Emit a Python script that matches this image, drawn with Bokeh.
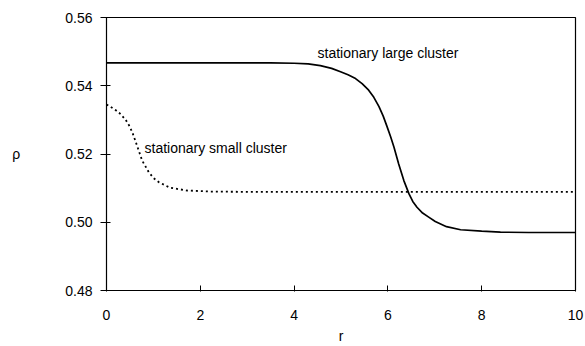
from bokeh.plotting import figure
from bokeh.models import Label, Range1d, FixedTicker, CustomJSTickFormatter
from bokeh.embed import file_html
from bokeh.resources import INLINE

r_large = [0, 1, 2, 3, 3.5, 4.0, 4.3, 4.56, 4.8, 4.99, 5.15, 5.31, 5.45, 5.59, 5.70, 5.81, 5.90, 5.98, 6.06, 6.13, 6.23, 6.34, 6.45, 6.53, 6.62, 6.74, 6.87, 7.01, 7.25, 7.55, 8.0, 8.4, 9.0, 10]
rho_large = [0.5467, 0.5467, 0.5467, 0.5467, 0.5467, 0.5466, 0.5464, 0.5459, 0.5451, 0.5441, 0.5432, 0.5421, 0.5406, 0.5387, 0.5366, 0.5339, 0.5311, 0.5281, 0.5250, 0.5220, 0.5171, 0.5122, 0.5083, 0.5061, 0.5044, 0.5027, 0.5015, 0.5002, 0.4987, 0.4978, 0.4974, 0.4971, 0.4970, 0.4970]

r_small = [0, 0.1, 0.2, 0.3, 0.41, 0.48, 0.55, 0.65, 0.76, 0.90, 1.0, 1.12, 1.36, 1.72, 2.22, 3, 4, 6, 8, 10]
rho_small = [0.5345, 0.5337, 0.5328, 0.5317, 0.5300, 0.5284, 0.5264, 0.5225, 0.5181, 0.5147, 0.5130, 0.5117, 0.5101, 0.5093, 0.5090, 0.5089, 0.5089, 0.5089, 0.5089, 0.5089]

x_ticks = [0, 2, 4, 6, 8, 10]
y_ticks = [0.48, 0.50, 0.52, 0.54, 0.56]
x_title = "r"
y_title = "ρ"
label_large = "stationary large cluster"
label_small = "stationary small cluster"

FONT = "Liberation Sans"

p = figure(width=585, height=346, output_backend="svg", toolbar_location=None,
           x_range=Range1d(0, 10), y_range=Range1d(0.48, 0.56),
           min_border_left=106, min_border_right=10, min_border_top=17, min_border_bottom=56)
p.xgrid.visible = False
p.ygrid.visible = False
p.outline_line_color = "black"
p.outline_line_width = 1.2
p.background_fill_color = "white"
p.border_fill_color = "white"

p.line(r_large, rho_large, line_color="black", line_width=1.7)
p.line(r_small, rho_small, line_color="black", line_width=1.8, line_dash="2 3")

p.xaxis.ticker = FixedTicker(ticks=x_ticks)
p.yaxis.ticker = FixedTicker(ticks=y_ticks)
p.yaxis.formatter = CustomJSTickFormatter(code="return tick.toFixed(2);")

for ax in (p.xaxis[0], p.yaxis[0]):
    ax.axis_line_color = "black"
    ax.major_tick_line_color = "black"
    ax.minor_tick_line_color = None
    ax.major_label_text_font = FONT
    ax.major_label_text_font_size = "14px"
    ax.major_label_text_color = "black"
    ax.axis_label_text_font = FONT
    ax.axis_label_text_font_size = "14px"
    ax.axis_label_text_font_style = "normal"
    ax.axis_label_text_color = "black"

p.xaxis.major_tick_in = 5
p.xaxis.major_tick_out = 1
p.xaxis.major_label_standoff = 18
p.xaxis.axis_label = x_title
p.xaxis.axis_label_standoff = 5

p.yaxis.major_tick_in = 4
p.yaxis.major_tick_out = 6
p.yaxis.major_label_standoff = 8
p.yaxis.axis_label = y_title
p.yaxis.axis_label_orientation = "horizontal"
p.yaxis.axis_label_standoff = 42

p.add_layout(Label(x=4.5, y=0.5497, text=label_large, text_font=FONT, text_font_size="14px",
                   text_baseline="middle", text_align="left", text_color="black"))
p.add_layout(Label(x=0.81, y=0.5219, text=label_small, text_font=FONT, text_font_size="14px",
                   text_baseline="middle", text_align="left", text_color="black"))

open("out.html", "w").write(file_html(p, INLINE))
